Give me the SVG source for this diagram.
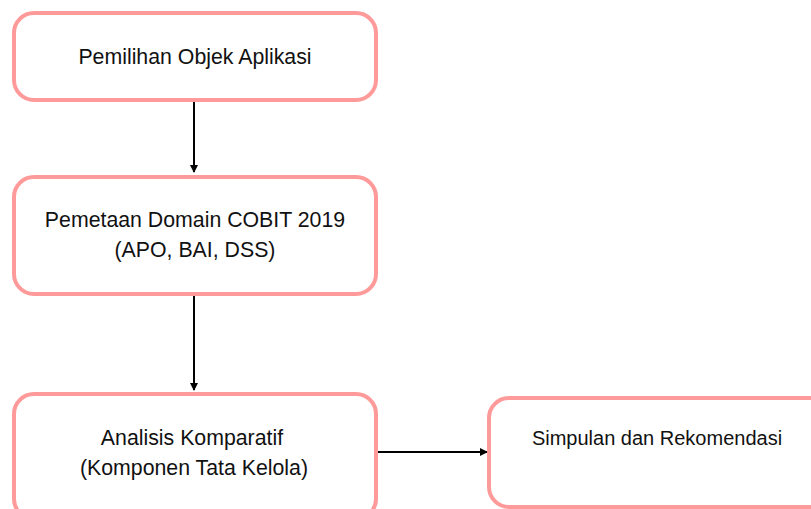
<svg xmlns="http://www.w3.org/2000/svg" width="811" height="509" viewBox="0 0 811 509">
<style>
.box{fill:#fff;stroke:#ff9a9a;stroke-width:4}
.t{font-family:"Liberation Sans",Arial,sans-serif;font-size:21.3px;fill:#111;text-anchor:middle}
.c{stroke:#000;stroke-width:2;fill:none}
</style>
<defs><marker id="a" markerWidth="8" markerHeight="8" refX="7" refY="4" orient="auto" markerUnits="userSpaceOnUse"><path d="M0,0 L8,4 L0,8 Z" fill="#000"/></marker></defs>
<rect width="811" height="509" fill="#fff"/>
<g id="connectors">
<path class="c" d="M194,102 V172" marker-end="url(#a)"/>
<path class="c" d="M194,296 V390" marker-end="url(#a)"/>
<path class="c" d="M378,452 H487" marker-end="url(#a)"/>
</g>
<g id="n1"><rect class="box" x="14" y="13" width="362" height="87" rx="20"/><text class="t" x="195" y="64">Pemilihan Objek Aplikasi</text></g>
<g id="n2"><rect class="box" x="14" y="177" width="362" height="117" rx="20"/><text class="t" x="195" y="227">Pemetaan Domain COBIT 2019</text><text class="t" x="195" y="257">(APO, BAI, DSS)</text></g>
<g id="n3"><rect class="box" x="14" y="394" width="362" height="125" rx="20"/><text class="t" x="192" y="445">Analisis Komparatif</text><text class="t" x="194" y="475">(Komponen Tata Kelola)</text></g>
<g id="n4"><rect class="box" x="489" y="398" width="340" height="109" rx="20"/><text class="t" x="657" y="445" style="font-size:20px">Simpulan dan Rekomendasi</text></g>
</svg>
